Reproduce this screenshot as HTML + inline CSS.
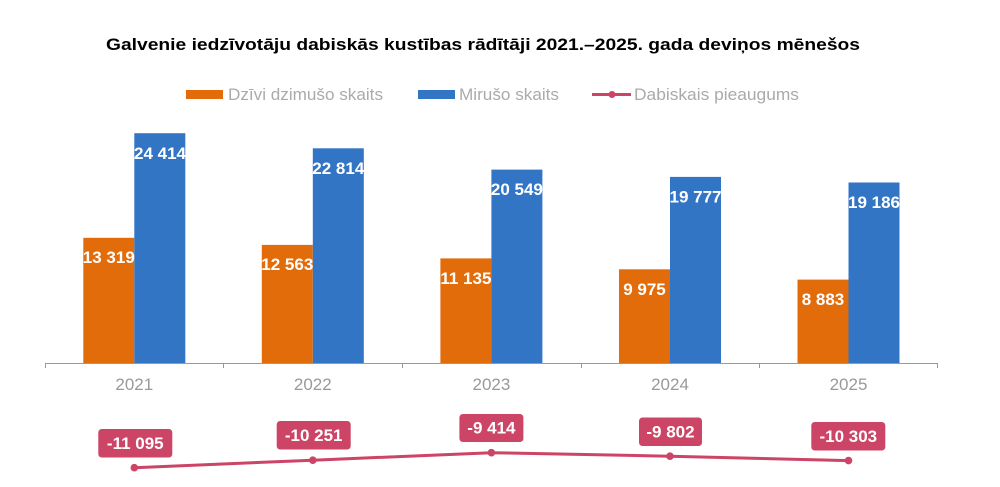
<!DOCTYPE html>
<html><head><meta charset="utf-8"><style>
html,body{margin:0;padding:0;background:#fff;}
svg{display:block;}
text{font-family:"Liberation Sans",Arial,sans-serif;}
</style></head><body>
<svg width="1000" height="487" viewBox="0 0 1000 487" xmlns="http://www.w3.org/2000/svg">
<rect width="1000" height="487" fill="#fff"/>
<text x="483" y="50" text-anchor="middle" font-size="17" font-weight="bold" fill="#000" textLength="754" lengthAdjust="spacingAndGlyphs">Galvenie iedzīvotāju dabiskās kustības rādītāji 2021.–2025. gada deviņos mēnešos</text>
<!-- legend -->
<rect x="186" y="90" width="37" height="9" fill="#e36c0a"/>
<text x="228" y="100" font-size="17" fill="#aaa" textLength="155" lengthAdjust="spacingAndGlyphs">Dzīvi dzimušo skaits</text>
<rect x="418" y="90" width="37" height="9" fill="#3375c5"/>
<text x="459" y="100" font-size="17" fill="#aaa" textLength="100" lengthAdjust="spacingAndGlyphs">Mirušo skaits</text>
<line x1="592" y1="94.5" x2="631" y2="94.5" stroke="#cc4466" stroke-width="3"/>
<circle cx="612" cy="94.5" r="3.5" fill="#cc4466"/>
<text x="634" y="100" font-size="17" fill="#aaa" textLength="165" lengthAdjust="spacingAndGlyphs">Dabiskais pieaugums</text>
<!-- bars -->
<g fill="#e36c0a">
<rect x="83.3" y="237.8" width="51" height="125.5"/>
<rect x="261.8" y="244.9" width="51" height="118.4"/>
<rect x="440.4" y="258.4" width="51" height="104.9"/>
<rect x="619" y="269.3" width="51" height="94"/>
<rect x="797.5" y="279.6" width="51" height="83.7"/>
</g>
<g fill="#3375c5">
<rect x="134.3" y="133.2" width="51" height="230.1"/>
<rect x="312.8" y="148.3" width="51" height="215"/>
<rect x="491.4" y="169.6" width="51" height="193.7"/>
<rect x="670" y="176.9" width="51" height="186.4"/>
<rect x="848.5" y="182.5" width="51" height="180.8"/>
</g>
<g font-size="17" font-weight="bold" fill="#fff" text-anchor="middle">
<text x="108.8" y="263">13 319</text>
<text x="287.3" y="270">12 563</text>
<text x="465.9" y="284">11 135</text>
<text x="644.5" y="295">9 975</text>
<text x="823" y="305">8 883</text>
<text x="160" y="159">24 414</text>
<text x="338.3" y="174">22 814</text>
<text x="516.9" y="195">20 549</text>
<text x="695.5" y="202.5">19 777</text>
<text x="874" y="208">19 186</text>
</g>
<!-- axis -->
<g stroke="#999" stroke-width="1">
<line x1="45" y1="363.5" x2="938" y2="363.5"/>
<line x1="45.5" y1="363" x2="45.5" y2="368"/>
<line x1="223.5" y1="363" x2="223.5" y2="368"/>
<line x1="402.5" y1="363" x2="402.5" y2="368"/>
<line x1="581.5" y1="363" x2="581.5" y2="368"/>
<line x1="759.5" y1="363" x2="759.5" y2="368"/>
<line x1="937.5" y1="363" x2="937.5" y2="368"/>
</g>
<g font-size="17" fill="#999" text-anchor="middle">
<text x="134.3" y="390">2021</text>
<text x="312.8" y="390">2022</text>
<text x="491.4" y="390">2023</text>
<text x="670" y="390">2024</text>
<text x="848.5" y="390">2025</text>
</g>
<!-- line -->
<polyline points="134.3,467.7 312.8,460.2 491.4,452.7 670,456.2 848.5,460.6" fill="none" stroke="#cc4466" stroke-width="3" stroke-linejoin="round"/>
<g fill="#cc4466">
<circle cx="134.3" cy="467.7" r="3.8"/>
<circle cx="312.8" cy="460.2" r="3.8"/>
<circle cx="491.4" cy="452.7" r="3.8"/>
<circle cx="670" cy="456.2" r="3.8"/>
<circle cx="848.5" cy="460.6" r="3.8"/>
<rect x="98.3" y="429" width="74" height="28.5" rx="3.5"/>
<rect x="276.7" y="421" width="74" height="28.5" rx="3.5"/>
<rect x="459.4" y="414" width="64" height="28" rx="3.5"/>
<rect x="639" y="417.5" width="63" height="28.5" rx="3.5"/>
<rect x="811.3" y="422" width="74" height="28.5" rx="3.5"/>
</g>
<g font-size="17" font-weight="bold" fill="#fff" text-anchor="middle">
<text x="135.3" y="449">-11 095</text>
<text x="313.7" y="441">-10 251</text>
<text x="491.4" y="433.5">-9 414</text>
<text x="670.5" y="437.5">-9 802</text>
<text x="848.3" y="442">-10 303</text>
</g>
</svg>
</body></html>
